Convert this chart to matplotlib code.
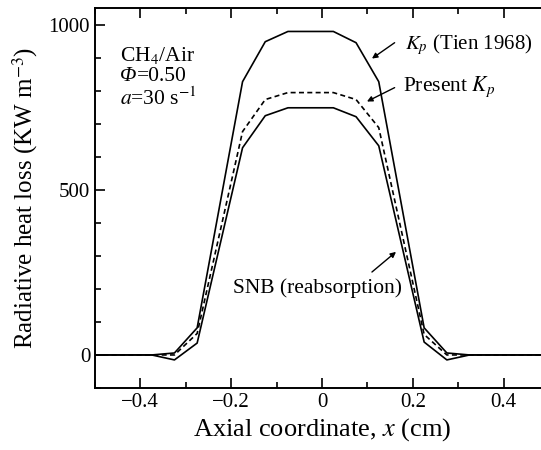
import matplotlib
matplotlib.use("Agg")
import matplotlib.pyplot as plt
from matplotlib.ticker import MultipleLocator

plt.rcParams['font.family'] = ['Liberation Serif', 'DejaVu Serif']
plt.rcParams['mathtext.fontset'] = 'stix'

# axial position (cm)
x = [-0.5, -0.375, -0.325, -0.275, -0.175, -0.125, -0.075, -0.025,
     0.025, 0.075, 0.125, 0.225, 0.275, 0.325, 0.5]
# radiative heat loss (KW m^-3)
tien = [0, 0, 6, 82, 827, 948, 979, 979, 979, 945, 827, 82, 6, 0, 0]
present = [0, 0, 0, 65, 676, 773, 794, 794, 794, 773, 688, 62, 0, 0, 0]
snb = [0, 0, -15, 36, 627, 724, 748, 748, 748, 721, 633, 39, -15, 0, 0]

fig = plt.figure(figsize=(5.41, 4.5), dpi=100)
ax = fig.add_axes([95/541, 62/450, 454/541, 380/450])

ax.plot(x, tien, color='black', lw=1.2)
ax.plot(x, present, color='black', lw=1.2, ls=(0, (3, 2)))
ax.plot(x, snb, color='black', lw=1.2)

ax.set_xlim(-0.5, 0.5)
ax.set_ylim(-100, 1050)
ax.xaxis.set_major_locator(MultipleLocator(0.2))
ax.xaxis.set_minor_locator(MultipleLocator(0.1))
ax.yaxis.set_major_locator(MultipleLocator(500))
ax.yaxis.set_minor_locator(MultipleLocator(100))
ax.xaxis.set_major_formatter(plt.FuncFormatter(
    lambda v, p: '0' if abs(v) < 1e-9 else ('%.1f' % v).replace('-', '\u2212')))

ax.tick_params(which='both', direction='in', top=True, right=False,
               labelsize=15, width=1.2)
ax.tick_params(which='major', length=7)
ax.tick_params(which='minor', length=4)
ax.spines['right'].set_visible(False)
for s in ['left', 'bottom', 'top']:
    ax.spines[s].set_linewidth(1.4)

ax.set_xlabel('Axial coordinate, $x$ (cm)', fontsize=19, labelpad=3)
ax.set_ylabel('Radiative heat loss (KW m$^{-3}$)', fontsize=18, labelpad=6)

ax.text(-0.444, 905, 'CH$_4$/Air', fontsize=15.5, va='center')
phi = ax.text(-0.444, 842, 'Φ', fontsize=15.5, va='center', style='italic')
ax.annotate('=0.50', xy=(1, 0.5), xycoords=phi, fontsize=15.5, va='center')
ax.text(-0.444, 776, '$a$=30 s$^{-1}$', fontsize=15.5, va='center')

ax.text(0.182, 939, '$K_p$ (Tien 1968)', fontsize=15, va='center')
ax.text(0.178, 812, 'Present $K_p$', fontsize=15.5, va='center')
ax.text(-0.196, 203, 'SNB (reabsorption)', fontsize=15.5, va='center')

arrow = dict(arrowstyle='-|>', color='black', lw=1.0,
             mutation_scale=8, shrinkA=0, shrinkB=0)
ax.annotate('', xy=(0.110, 897), xytext=(0.160, 945), arrowprops=arrow)
ax.annotate('', xy=(0.099, 767), xytext=(0.160, 809), arrowprops=arrow)
ax.annotate('', xy=(0.163, 312), xytext=(0.110, 251), arrowprops=arrow)

fig.savefig('out.png', dpi=100)
